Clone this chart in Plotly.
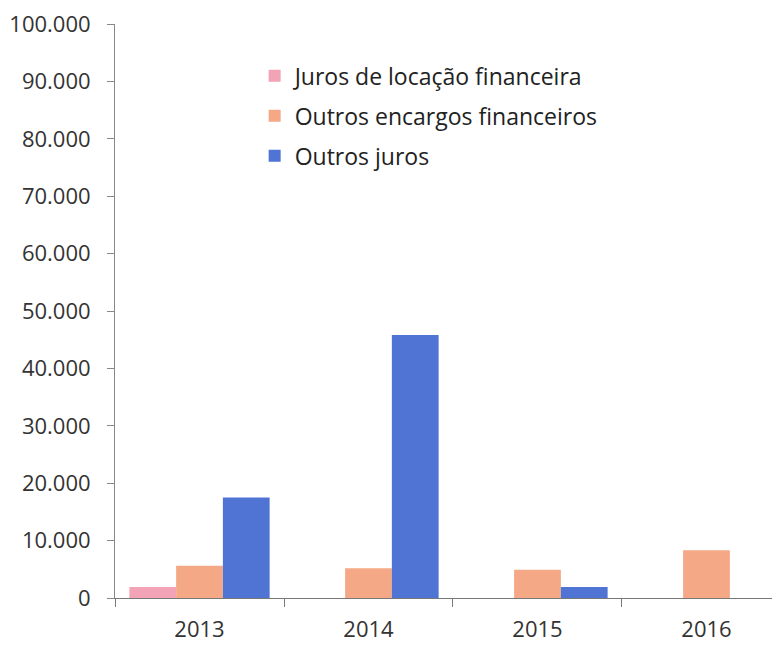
import plotly.graph_objects as go

years = ["2013", "2014", "2015", "2016"]
juros_locacao = [1900, None, None, None]
outros_encargos = [5600, 5200, 4900, 8300]
outros_juros = [17500, 45800, 1900, None]

series_names = ["Juros de locação financeira", "Outros encargos financeiros", "Outros juros"]
series_colors = ["#F2A3B5", "#F4A886", "#4F74D4"]
y_ticks = [0, 10000, 20000, 30000, 40000, 50000, 60000, 70000, 80000, 90000, 100000]
y_tick_labels = ["0", "10.000", "20.000", "30.000", "40.000", "50.000", "60.000",
                 "70.000", "80.000", "90.000", "100.000"]

fig = go.Figure()
for name, vals, col in zip(series_names, [juros_locacao, outros_encargos, outros_juros], series_colors):
    fig.add_trace(go.Bar(x=years, y=vals, name=name, marker=dict(color=col, line=dict(width=0)),
                         legendgroup=name))

fig.update_layout(
    width=772, height=637,
    margin=dict(l=107, r=0, t=16, b=47),
    paper_bgcolor="white", plot_bgcolor="white",
    barmode="group", bargap=0.17, bargroupgap=0,
    font=dict(family="Open Sans", size=22, color="#333333"),
    showlegend=True,
    legend=dict(x=0.21, y=0.947, xanchor="left", yanchor="top",
                font=dict(size=23, color="#222222"), tracegroupgap=7,
                itemwidth=30, bgcolor="rgba(0,0,0,0)"),
    xaxis=dict(type="category", range=[-0.5, 3.435], showline=True, linecolor="#777777",
               linewidth=1, ticks="outside", tickson="boundaries", ticklen=8,
               tickcolor="#777777", showgrid=False, zeroline=False, ticklabelstandoff=12,
               ticklabeloverflow="allow", tickfont=dict(size=22)),
    yaxis=dict(range=[0, 100000], tickvals=y_ticks, ticktext=y_tick_labels, showline=True,
               linecolor="#888888", linewidth=1, ticks="outside", ticklen=7,
               tickcolor="#888888", showgrid=False, zeroline=False, ticklabelstandoff=12,
               ticklabeloverflow="allow", tickfont=dict(size=22)),
)

fig.write_html("out.html")
